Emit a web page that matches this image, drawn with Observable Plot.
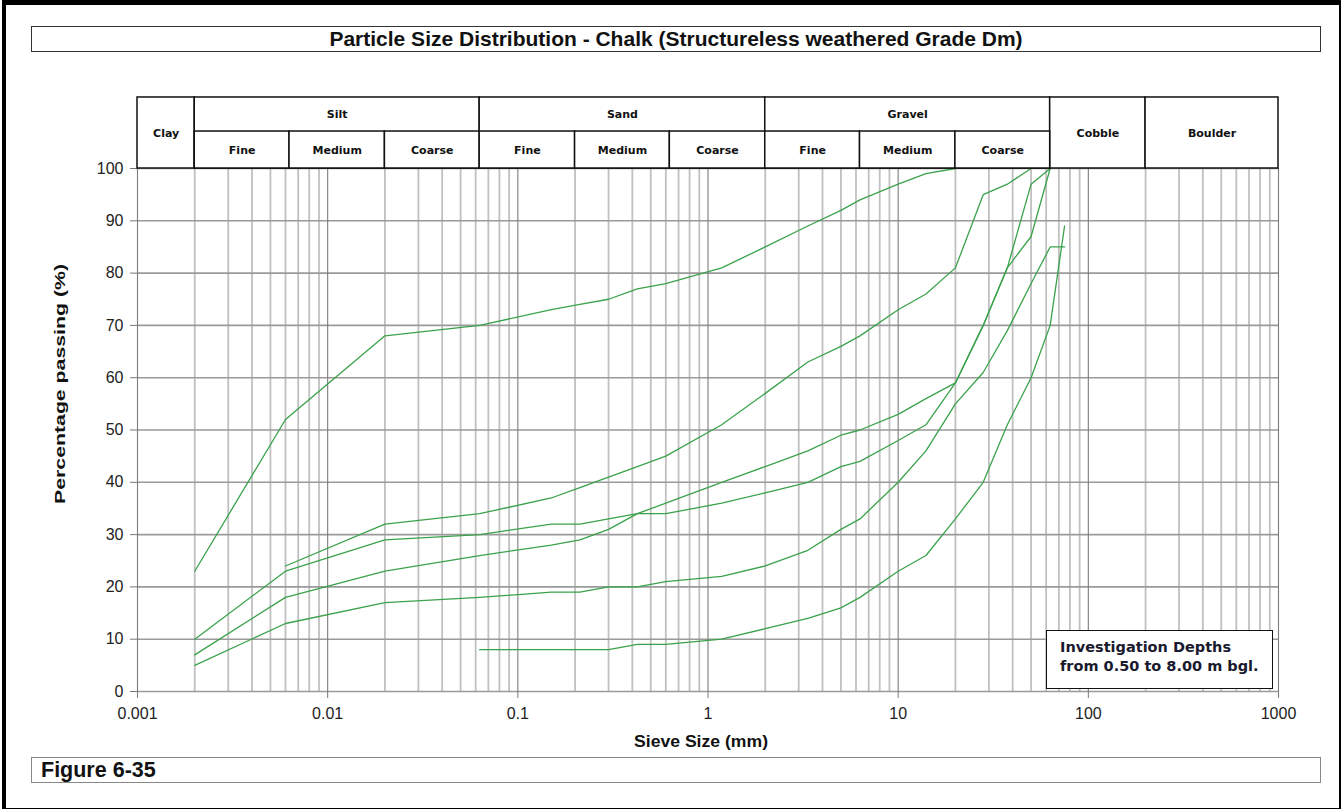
<!DOCTYPE html>
<html>
<head>
<meta charset="utf-8">
<script src="https://cdn.jsdelivr.net/npm/d3@7"></script>
<script src="https://cdn.jsdelivr.net/npm/@observablehq/plot@0.6"></script>
<style>
  body { margin: 0; background: #fff; font-family: Arial, "Liberation Sans", sans-serif; }
  #page { position: relative; width: 1341px; height: 809px; overflow: hidden; background: #fff; }
  #frame { position: absolute; left: 2px; top: 0; width: 1333px; height: 803px; border: 4px solid #000; border-top-width: 5px; box-sizing: content-box; }
  #title { position: absolute; left: 31px; top: 26px; width: 1290px; height: 26px; box-sizing: border-box; border: 1.5px solid #333;
           font-weight: bold; font-size: 21px; line-height: 23px; text-align: center; color: #111; white-space: nowrap; }
  #chart { position: absolute; left: 0; top: 0; }
  #note { position: absolute; left: 1046px; top: 630px; width: 227px; height: 59px; box-sizing: border-box; border: 1.5px solid #111; background: #fff;
          font-family: "DejaVu Sans", Verdana, sans-serif; font-weight: bold; font-size: 14.5px; line-height: 19px; padding: 7px 0 0 13px; color: #1a1a2e; white-space: nowrap; }
  #figure { position: absolute; left: 31px; top: 757px; width: 1290px; height: 26px; box-sizing: border-box; border: 1px solid #888;
            font-weight: bold; font-size: 21.5px; line-height: 24px; padding-left: 9px; color: #111; }
</style>
</head>
<body>
<div id="page">
  <div id="frame"></div>
  <div id="title">Particle Size Distribution - Chalk (Structureless weathered Grade Dm)</div>
  <div id="chart"></div>
  <div id="note">Investigation Depths<br>from 0.50 to 8.00 m bgl.</div>
  <div id="figure">Figure 6-35</div>
</div>
<script>
// ---- Grading curves (sieve size in mm, percentage passing) ----
const sizesA = [0.002, 0.006, 0.02, 0.063, 0.15, 0.212, 0.3, 0.425, 0.6, 1.18, 2, 3.35, 5, 6.3, 10, 14, 20];
const passA  = [23,    52,    68,   70,    73,   74,    75,  77,    78,  81,   85, 89,   92, 94,  97, 99, 100];

const sizesB = [0.006, 0.02, 0.063, 0.15, 0.212, 0.3, 0.425, 0.6, 1.18, 2, 3.35, 5, 6.3, 10, 14, 20, 28, 37.5, 50];
const passB  = [24,    32,   34,    37,   39,    41,  43,    45,  51,   57, 63,  66, 68,  73, 76, 81, 95, 97,   100];

const sizesC = [0.002, 0.006, 0.02, 0.063, 0.15, 0.212, 0.3, 0.425, 0.6, 1.18, 2, 3.35, 5, 6.3, 10, 14, 20, 28, 37.5, 50, 63];
const passC  = [10,    23,    29,   30,    32,   32,    33,  34,    34,  36,   38, 40,  43, 44,  48, 51, 59, 70, 81,   87, 100];

const sizesD = [0.002, 0.006, 0.02, 0.063, 0.15, 0.212, 0.3, 0.425, 0.6, 1.18, 2, 3.35, 5, 6.3, 10, 14, 20, 28, 37.5, 50, 63];
const passD  = [7,     18,    23,   26,    28,   29,    31,  34,    36,  40,   43, 46,  49, 50,  53, 56, 59, 70, 81,   97, 100];

const sizesE = [0.002, 0.006, 0.02, 0.063, 0.15, 0.212, 0.3, 0.425, 0.6, 1.18, 2, 3.35, 5, 6.3, 10, 14, 20, 28, 37.5, 50, 63, 75];
const passE  = [5,     13,    17,   18,    19,   19,    20,  20,    21,  22,   24, 27,  31, 33,  40, 46, 55, 61, 69,   78, 85, 85];

const sizesF = [0.063, 0.15, 0.212, 0.3, 0.425, 0.6, 1.18, 2, 3.35, 5, 6.3, 10, 14, 20, 28, 37.5, 50, 63, 75];
const passF  = [8,     8,    8,     8,   9,     9,   10,   12, 14,  16, 18, 23,  26, 33, 40, 51,   60, 70, 89];

const samples = [
  ["A", sizesA, passA], ["B", sizesB, passB], ["C", sizesC, passC],
  ["D", sizesD, passD], ["E", sizesE, passE], ["F", sizesF, passF]
];
const curveRows = samples.flatMap(([id, s, p]) => s.map((v, i) => ({sample: id, size: v, pass: p[i]})));

// ---- Axis ticks ----
const xTickValues = [0.001, 0.01, 0.1, 1, 10, 100, 1000];
const xTickLabels = ["0.001", "0.01", "0.1", "1", "10", "100", "1000"];
const yTickValues = [0, 10, 20, 30, 40, 50, 60, 70, 80, 90, 100];
const decades = [0.001, 0.01, 0.1, 1, 10, 100];
const minorX = decades.flatMap(d => d3.range(2, 10).map(k => +(k * d).toPrecision(3)));

// ---- Soil classification header ----
const mainNames = ["Clay", "Silt", "Sand", "Gravel", "Cobble", "Boulder"];
const mainFrom  = [0.001, 0.002, 0.063, 2, 63, 200];
const mainTo    = [0.002, 0.063, 2, 63, 200, 1000];
const mainSplit = [false, true, true, true, false, false];
const subNames  = ["Fine", "Medium", "Coarse", "Fine", "Medium", "Coarse", "Fine", "Medium", "Coarse"];
const subFrom   = [0.002, 0.0063, 0.02, 0.063, 0.2, 0.63, 2, 6.3, 20];
const subTo     = [0.0063, 0.02, 0.063, 0.2, 0.63, 2, 6.3, 20, 63];

const HEAD_MID = 107.07, HEAD_TOP = 113.58;
const mainRows = mainNames.map((n, i) => ({name: n, x1: mainFrom[i], x2: mainTo[i], split: mainSplit[i],
  xm: Math.sqrt(mainFrom[i] * mainTo[i])}));
const subRows = subNames.map((n, i) => ({name: n, x1: subFrom[i], x2: subTo[i], xm: Math.sqrt(subFrom[i] * subTo[i])}));

const labelTickMap = new Map(xTickValues.map((v, i) => [v, xTickLabels[i]]));
const headFont = "'DejaVu Sans', Verdana, sans-serif";

const chart = Plot.plot({
  width: 1341,
  height: 752,
  marginLeft: 137,
  marginRight: 63,
  marginTop: 168,
  marginBottom: 61,
  style: {fontFamily: "Arial, 'Liberation Sans', sans-serif", fontSize: "16px", color: "#222", background: "transparent"},
  x: {type: "log", domain: [0.001, 1000]},
  y: {domain: [0, 100]},
  marks: [
    Plot.ruleX(minorX, {y1: 0, y2: 100, stroke: "#c0c0c0", strokeWidth: 1.8}),
    Plot.ruleY(yTickValues, {stroke: "#9a9a9a", strokeWidth: 1.6}),
    Plot.ruleX(xTickValues, {y1: 0, y2: 100, stroke: "#7d7d7d", strokeWidth: 1.1}),
    Plot.axisX({ticks: xTickValues, tickFormat: d => labelTickMap.get(d), tickSize: 7, tickPadding: 9, label: null, stroke: "#777", fontSize: 16}),
    Plot.axisY({ticks: yTickValues, tickSize: 7, tickPadding: 7, label: null, stroke: "#777", fontSize: 16}),
    Plot.line(curveRows, {x: "size", y: "pass", z: "sample", stroke: "#3aa24b", strokeWidth: 1.3, curve: "linear"}),
    // classification header
    Plot.rect(mainRows, {x1: "x1", x2: "x2", y1: 100, y2: HEAD_TOP, fill: "#fff", stroke: "#111", strokeWidth: 1.5}),
    Plot.rect(subRows, {x1: "x1", x2: "x2", y1: 100, y2: HEAD_MID, fill: "#fff", stroke: "#111", strokeWidth: 1.5}),
    Plot.text(mainRows, {x: "xm", y: d => d.split ? (HEAD_MID + HEAD_TOP) / 2 : (100 + HEAD_TOP) / 2, text: "name",
      fontFamily: headFont, fontWeight: "bold", fontSize: 11, fill: "#111"}),
    Plot.text(subRows, {x: "xm", y: (100 + HEAD_MID) / 2, text: "name", fontFamily: headFont, fontWeight: "bold", fontSize: 11, fill: "#111"}),
    // axis titles
    Plot.text(["Sieve Size (mm)"], {frameAnchor: "bottom", dx: -7, dy: 55, text: d => d, fontWeight: "bold", fontSize: 16,
      fill: "#111", className: "xlab"}),
    Plot.text(["Percentage passing (%)"], {frameAnchor: "left", dx: -77, dy: -46, rotate: -90, textAnchor: "middle", text: d => d,
      fontWeight: "bold", fontSize: 15, fill: "#111", className: "ylab"})
  ]
});
document.getElementById("chart").appendChild(chart);

function fitLength(selector, len) {
  chart.querySelectorAll(selector + " text").forEach(t => {
    t.setAttribute("textLength", len);
    t.setAttribute("lengthAdjust", "spacingAndGlyphs");
  });
}
fitLength(".ylab", 240);
fitLength(".xlab", 134);
</script>
</body>
</html>
